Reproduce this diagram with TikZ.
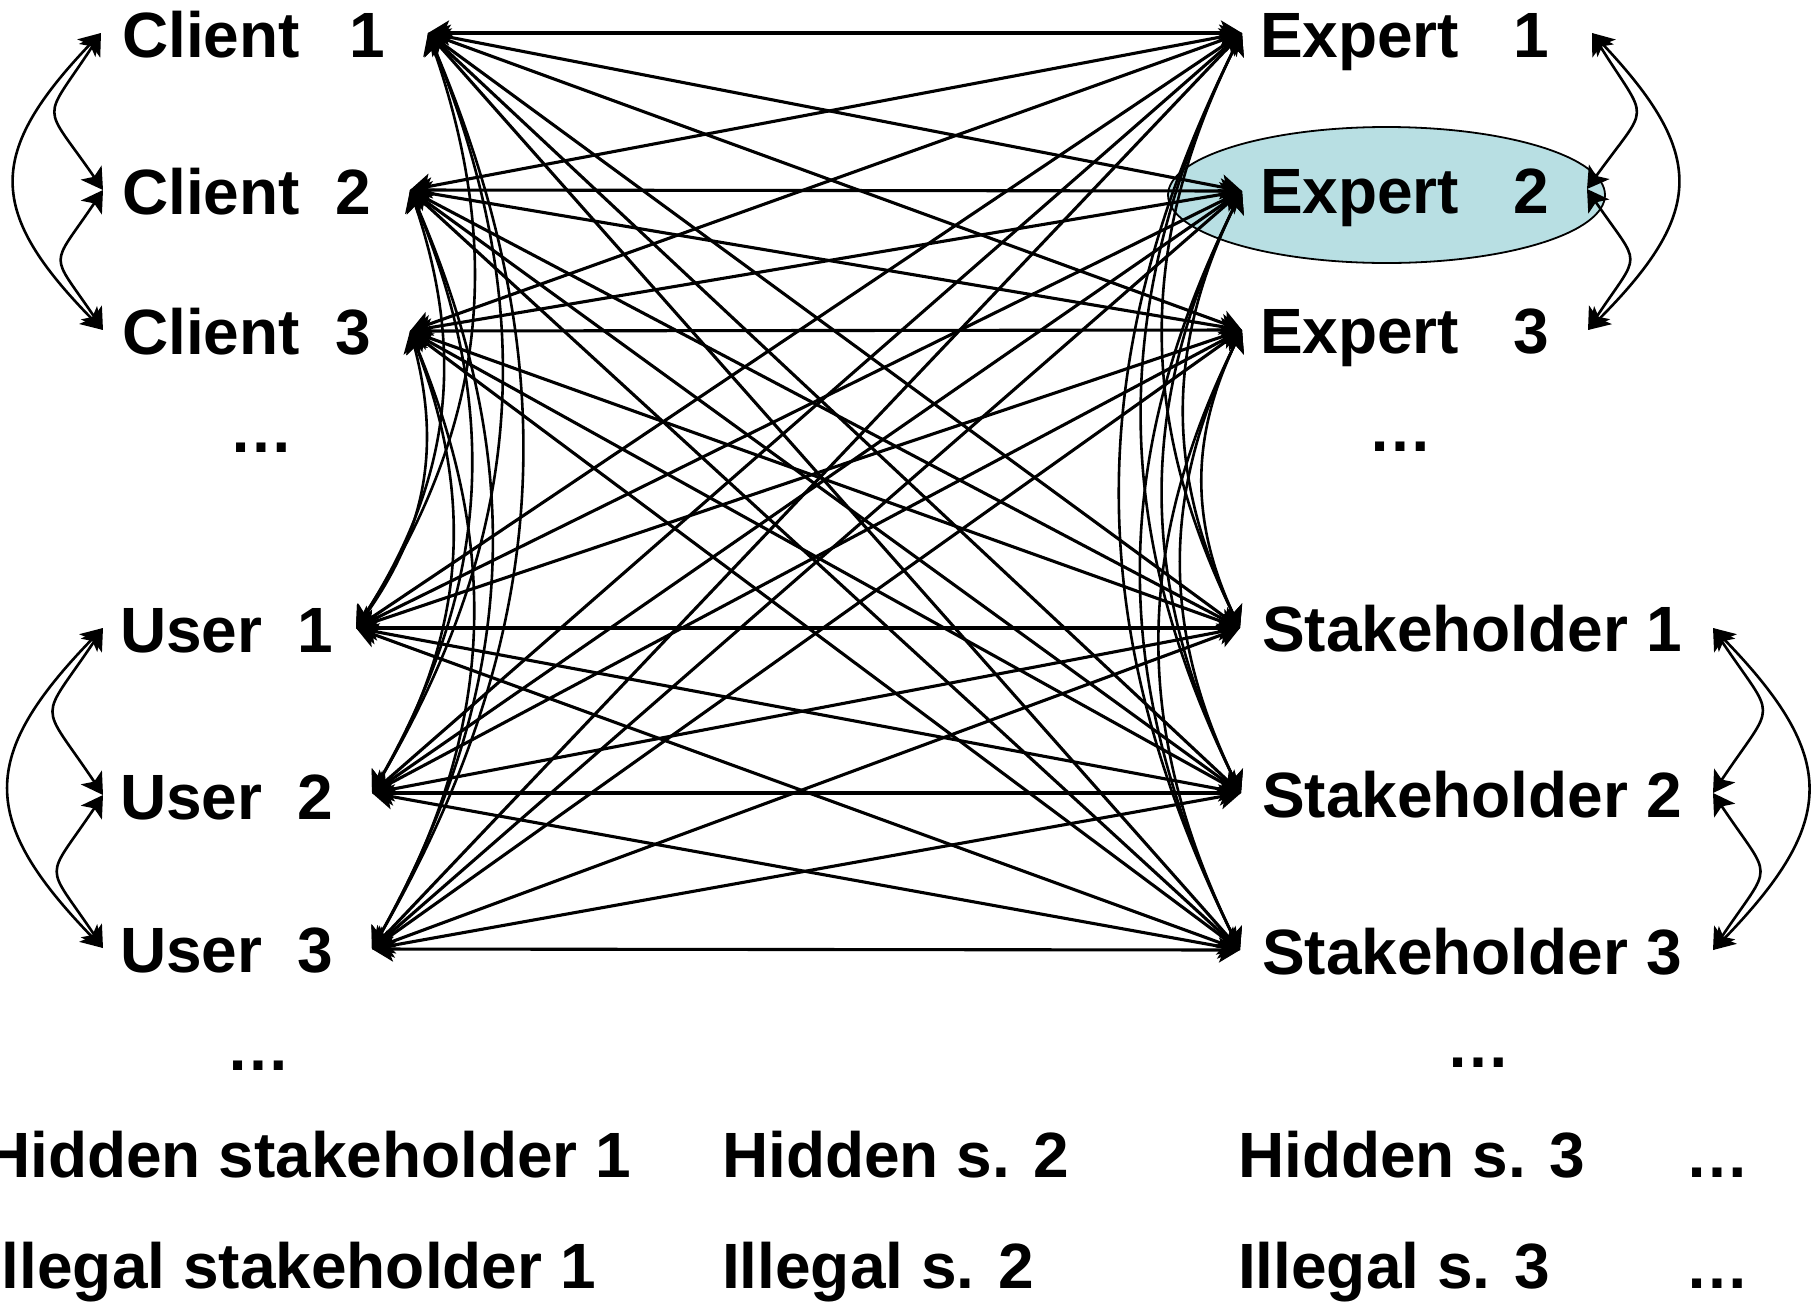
\documentclass[tikz,border=0pt]{standalone}
\usepackage{fontspec}
\setmainfont{Liberation Sans}
\usetikzlibrary{arrows.meta,bending}
\definecolor{ellfill}{RGB}{184,223,227}
\begin{document}
\begin{tikzpicture}[x=1pt,y=1pt,
  lbl/.style={anchor=base west, inner sep=0pt, outer sep=0pt,
              font=\fontsize{64}{76}\selectfont\bfseries},
  head/.tip={Stealth[length=21pt,width=25pt,inset=5pt]},
  link/.style={line width=3.1pt, head-head},
  curv/.style={line width=2.6pt, head-head},
]
\useasboundingbox (0,-1302) rectangle (1817,0);

% highlight ellipse
\draw[fill=ellfill, line width=1.8pt] (1386.5,-195) ellipse [x radius=218.5, y radius=68];

% anchor points
\coordinate (c1o) at (101,-33);
\coordinate (c2o) at (103,-190);
\coordinate (c3o) at (103,-330);
\coordinate (u1o) at (103,-628);
\coordinate (u2o) at (103,-795);
\coordinate (u3o) at (103,-948);
\coordinate (c1i) at (428,-33);
\coordinate (c2i) at (410,-190);
\coordinate (c3i) at (410,-331);
\coordinate (u1i) at (356,-628);
\coordinate (u2i) at (372,-793);
\coordinate (u3i) at (372,-949);
\coordinate (e1i) at (1242,-33);
\coordinate (e2i) at (1242,-191);
\coordinate (e3i) at (1242,-330);
\coordinate (s1i) at (1240,-628);
\coordinate (s2i) at (1241,-793);
\coordinate (s3i) at (1240,-950);
\coordinate (e1o) at (1592,-33);
\coordinate (e2o) at (1587,-189);
\coordinate (e3o) at (1588,-330);
\coordinate (s1o) at (1713,-628);
\coordinate (s2o) at (1713,-793);
\coordinate (s3o) at (1713,-950);

% straight links left <-> right
\foreach \a in {c1i,c2i,c3i,u1i,u2i,u3i}
  \foreach \b in {e1i,e2i,e3i,s1i,s2i,s3i}
    \draw[link] (\a) -- (\b);

% inner curves
\foreach \a in {c1i,c2i,c3i}
  \foreach \b in {u1i,u2i,u3i}
    \draw[curv] (\a) to[bend left=27] (\b);
\foreach \a in {e1i,e2i,e3i}
  \foreach \b in {s1i,s2i,s3i}
    \draw[curv] (\a) to[bend right=27] (\b);

% outer curves
\draw[curv] (c1o) to[bend right=33, looseness=1.9] (c2o);
\draw[curv] (c2o) to[bend right=33, looseness=1.9] (c3o);
\draw[curv] (c1o) to[bend right=45, looseness=1.45] (c3o);
\draw[curv] (u1o) to[bend right=33, looseness=1.9] (u2o);
\draw[curv] (u2o) to[bend right=33, looseness=1.9] (u3o);
\draw[curv] (u1o) to[bend right=45, looseness=1.45] (u3o);
\draw[curv] (e1o) to[bend left=33, looseness=1.9] (e2o);
\draw[curv] (e2o) to[bend left=33, looseness=1.9] (e3o);
\draw[curv] (e1o) to[bend left=45, looseness=1.45] (e3o);
\draw[curv] (s1o) to[bend left=33, looseness=1.9] (s2o);
\draw[curv] (s2o) to[bend left=33, looseness=1.9] (s3o);
\draw[curv] (s1o) to[bend left=45, looseness=1.45] (s3o);

% labels
\node[lbl] (tc1) at (122,-57) {Client\hspace{50pt}1};
\node[lbl] (tc2) at (122,-214) {Client\hspace{36pt}2};
\node[lbl] (tc3) at (122,-354) {Client\hspace{36pt}3};
\node[lbl] (tcd) at (229,-452) {…};
\node[lbl] (tu1) at (120,-652) {User\hspace{35pt}1};
\node[lbl] (tu2) at (120,-819) {User\hspace{35pt}2};
\node[lbl] (tu3) at (120,-972) {User\hspace{35pt}3};
\node[lbl] (tud) at (226,-1070) {…};
\node[lbl] (te1) at (1260,-57) {Expert\hspace{54pt}1};
\node[lbl] (te2) at (1260,-213) {Expert\hspace{54pt}2};
\node[lbl] (te3) at (1260,-353) {Expert\hspace{54pt}3};
\node[lbl] (ted) at (1368,-451) {…};
\node[lbl] (ts1) at (1262,-651) {Stakeholder 1};
\node[lbl] (ts2) at (1262,-817) {Stakeholder 2};
\node[lbl] (ts3) at (1262,-974) {Stakeholder 3};
\node[lbl] (tsd) at (1446,-1067) {…};

\node[lbl] (h1) at (-16,-1177) {Hidden stakeholder 1};
\node[lbl] (h2) at (722,-1177) {Hidden s. 2};
\node[lbl] (h3) at (1238,-1177) {Hidden s. 3};
\node[lbl] (hd) at (1685,-1177) {…};
\node[lbl] (i1) at (-16,-1288) {Illegal stakeholder 1};
\node[lbl] (i2) at (722,-1288) {Illegal s. 2};
\node[lbl] (i3) at (1238,-1288) {Illegal s. 3};
\node[lbl] (id) at (1685,-1288) {…};
\end{tikzpicture}
\end{document}
